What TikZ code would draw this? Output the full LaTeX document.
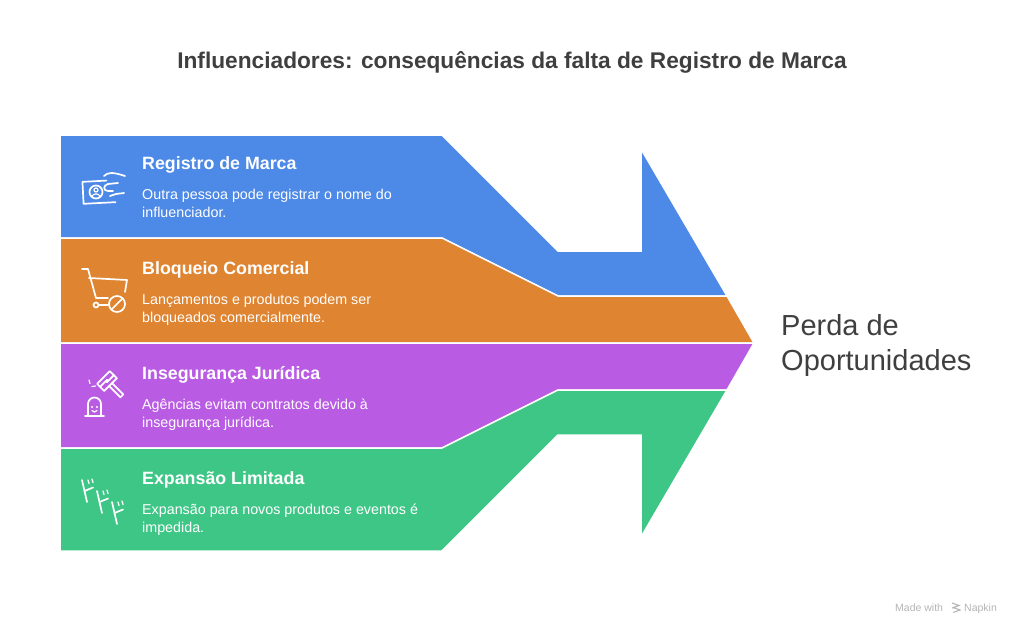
\documentclass[tikz,border=0pt]{standalone}
\usepackage{fontspec}
\setmainfont{Liberation Sans}
\usetikzlibrary{positioning}

\definecolor{bandblue}{HTML}{4D89E6}
\definecolor{bandorange}{HTML}{DF8430}
\definecolor{bandpurple}{HTML}{B95CE3}
\definecolor{bandgreen}{HTML}{3EC687}
\definecolor{titlegray}{HTML}{3F3F3F}
\definecolor{markgray}{HTML}{B4B4B4}

\tikzset{
    band/.style={draw=white, line width=1.5pt, line join=miter},
    head/.style={anchor=base west, inner sep=0pt, text=white, font=\fontsize{17.8}{20}\selectfont\bfseries},
    body/.style={anchor=north west, inner sep=0pt, text=white, align=left, font=\fontsize{14.3}{18}\selectfont},
    icon/.style={draw=white, line width=1.7pt, line cap=round, line join=round},
}

\begin{document}
\begin{tikzpicture}[x=1pt, y=-1pt]
    \useasboundingbox (0,0) rectangle (1024,634);

    % bands
    \fill[bandblue, band] (60,135) -- (442,135) -- (558,251) -- (641,251) -- (641,149) -- (727,296) -- (558,296) -- (442,238) -- (60,238) -- cycle;
    \fill[bandorange, band] (60,238) -- (442,238) -- (558,296) -- (727,296) -- (754,343) -- (60,343) -- cycle;
    \fill[bandpurple, band] (60,343) -- (754,343) -- (727,390) -- (558,390) -- (442,448) -- (60,448) -- cycle;
    \fill[bandgreen, band] (60,448) -- (442,448) -- (558,390) -- (727,390) -- (641,537) -- (641,435) -- (558,435) -- (442,551) -- (60,551) -- cycle;

    % title
    \node[text=titlegray, font=\fontsize{22.7}{26}\selectfont\bfseries] (title) at (512,62) {Influenciadores: consequências da falta de Registro de Marca};

    % texts
    \node[head] (regh) at (142,169) {Registro de Marca};
    \node[body] (regb) at (142,189) {Outra pessoa pode registrar o nome do\\influenciador.};
    \node[head] (bloh) at (142,274) {Bloqueio Comercial};
    \node[body] (blob) at (142,294) {Lançamentos e produtos podem ser\\bloqueados comercialmente.};
    \node[head] (insh) at (142,379) {Insegurança Jurídica};
    \node[body] (insb) at (142,399) {Agências evitam contratos devido à\\insegurança jurídica.};
    \node[head] (exph) at (142,484) {Expansão Limitada};
    \node[body] (expb) at (142,504) {Expansão para novos produtos e eventos é\\impedida.};

    \node[anchor=north west, inner sep=0pt, text=titlegray, align=left, font=\fontsize{29}{35}\selectfont] (perda) at (781,314) {Perda de\\Oportunidades};

    % icon: card and hand
    \draw[icon, rotate around={3:(99,192)}] (107,181) -- (83,181) -- (83,203) -- (115,203);
    \draw[icon] (96,192) circle (6.5);
    \draw[icon, line width=1.2pt] (96,190) circle (2);
    \draw[icon, line width=1.2pt] (92,196.5) .. controls (93,193) and (99,193) .. (100,196.5);
    \draw[icon] (104,176) .. controls (108,172) and (113,172) .. (125,176);
    \draw[icon] (118,183) -- (108,184) .. controls (103,185) and (103,191) .. (108,191) -- (113,191);
    \draw[icon] (110,196) -- (116,194) -- (124,193);

    % icon: cart
    \draw[icon] (82,269) -- (88,269) -- (96,298) -- (108,298);
    \draw[icon] (89,278) -- (127,280) -- (125,292);
    \draw[icon] (96,305) circle (2.5);
    \draw[icon] (99,305) -- (108,305);
    \draw[icon] (117,304) circle (8);
    \draw[icon] (111.5,309.5) -- (122.5,298.5);

    % icon: gavel and stone
    \draw[icon] (85,416) -- (104,416);
    \draw[icon] (88,415) -- (88,404) arc (180:360:6.5) -- (101,415);
    \fill[white] (92,407) circle (1.2) (97,407) circle (1.2);
    \draw[icon, line width=1.2pt] (92,410.5) .. controls (93,412.5) and (96,412.5) .. (97,410.5);
    \draw[icon] (116.9,378.2) -- (109.8,371.1) -- (97.1,383.8) -- (104.2,390.9) -- cycle;
    \draw[icon] (113.9,375.2) -- (106.8,382.3) (100.1,386.8) -- (107.2,379.7);
    \draw[icon] (111.95,383.13) -- (123.3,394.4) -- (120.5,397.3) -- (109.13,385.95);
    \draw[icon, line width=1.2pt] (89,380) -- (90,383.5) (92,386.5) -- (95.5,386);

    % icon: growth
    \foreach \dx/\dy in {0/0, 15/11, 30/22} {
        \draw[icon] (82+\dx,480+\dy) -- (87+\dx,502+\dy);
        \draw[icon] (84.5+\dx,491+\dy) -- (93+\dx,487.5+\dy);
        \draw[icon, line width=1.3pt] (88+\dx,480+\dy) -- (89+\dx,483.5+\dy);
        \draw[icon, line width=1.3pt] (92+\dx,479+\dy) -- (93+\dx,482.5+\dy);
    }

    % watermark
    \node[anchor=base west, inner sep=0pt, text=markgray, font=\fontsize{10.5}{12}\selectfont] (made) at (895,611) {Made with};
    \draw[markgray, line width=1.1pt] (952,603) -- (959,605.5) -- (952,608) (953,607.5) -- (960,610) -- (953,612.5);
    \node[anchor=base west, inner sep=0pt, text=markgray, font=\fontsize{10.5}{12}\selectfont] (napkin) at (964,611) {Napkin};
\end{tikzpicture}
\end{document}
